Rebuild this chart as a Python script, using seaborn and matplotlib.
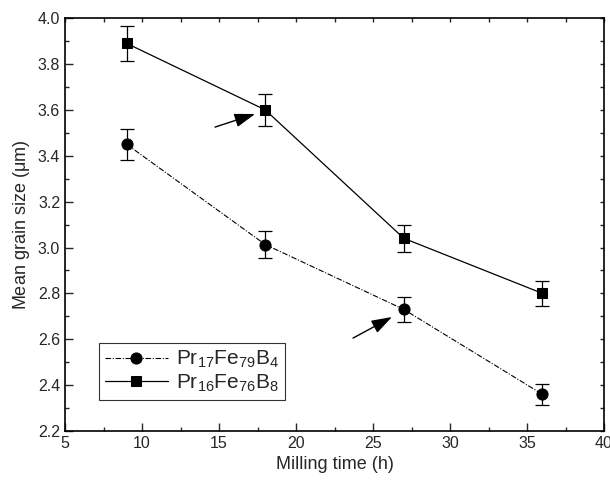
import numpy as np
import pandas as pd
import seaborn as sns
from matplotlib import pyplot as plt

# datos
milling_time = [9, 18, 27, 36]
size_pr17 = [3.45, 3.013, 2.73, 2.36]
err_pr17 = [0.068, 0.06, 0.055, 0.045]
size_pr16 = [3.89, 3.60, 3.04, 2.80]
err_pr16 = [0.075, 0.07, 0.06, 0.055]
label_pr17 = r'Pr$_{\mathregular{17}}$Fe$_{\mathregular{79}}$B$_{\mathregular{4}}$'
label_pr16 = r'Pr$_{\mathregular{16}}$Fe$_{\mathregular{76}}$B$_{\mathregular{8}}$'

sns.set_style('ticks')
plt.rcParams['font.family'] = ['Liberation Sans', 'DejaVu Sans']
plt.rcParams['mathtext.fontset'] = 'custom'
plt.rcParams['mathtext.rm'] = 'Liberation Sans'
plt.rcParams['mathtext.it'] = 'Liberation Sans:italic'

df1 = pd.DataFrame({'t': milling_time, 'size': size_pr17})
df2 = pd.DataFrame({'t': milling_time, 'size': size_pr16})

fig = plt.figure(figsize=(6.1, 4.9), dpi=100)
ax = fig.add_axes([0.1066, 0.1204, 0.8836, 0.8426])

sns.lineplot(data=df1, x='t', y='size', ax=ax, color='black', marker='o',
             markersize=8, linewidth=0.8, label=label_pr17,
             markeredgecolor='black')
ax.lines[-1].set_dashes([5, 1.5, 1, 1.5])
sns.lineplot(data=df2, x='t', y='size', ax=ax, color='black', marker='s',
             markersize=7, linewidth=0.9, label=label_pr16,
             markeredgecolor='black')

ax.errorbar(milling_time, size_pr17, yerr=err_pr17, fmt='none',
            ecolor='black', elinewidth=0.9, capsize=5, capthick=0.9)
ax.errorbar(milling_time, size_pr16, yerr=err_pr16, fmt='none',
            ecolor='black', elinewidth=0.9, capsize=5, capthick=0.9)

# flechas
estilo = '-|>,head_length=0.9,head_width=0.3'
ax.annotate('', xy=(17.34, 3.582), xytext=(14.74, 3.525),
            arrowprops=dict(arrowstyle=estilo, color='black', lw=1,
                            mutation_scale=14, shrinkA=0, shrinkB=0))
ax.annotate('', xy=(26.23, 2.697), xytext=(23.70, 2.605),
            arrowprops=dict(arrowstyle=estilo, color='black', lw=1,
                            mutation_scale=14, shrinkA=0, shrinkB=0))

ax.set_xlim(5, 40)
ax.set_ylim(2.2, 4.0)
ax.set_xticks(np.arange(5, 41, 5))
ax.set_xticks(np.arange(7.5, 40, 5), minor=True)
ax.set_yticks(np.arange(2.2, 4.01, 0.2))
ax.set_yticks(np.arange(2.3, 4.0, 0.2), minor=True)
ax.set_yticklabels([f'{v:.1f}' for v in np.arange(2.2, 4.01, 0.2)])
ax.tick_params(which='major', direction='in', length=6, width=1,
               labelsize=11.5, top=True, right=True)
ax.tick_params(which='minor', direction='in', length=3, width=1,
               top=True, right=True)
ax.xaxis.set_tick_params(which='major', top=True)
for t in ax.xaxis.get_major_ticks():
    t.tick2line.set_markersize(3)
for t in ax.yaxis.get_major_ticks():
    t.tick2line.set_markersize(3)
for s in ax.spines.values():
    s.set_linewidth(1.2)
    s.set_color('black')

ax.set_xlabel('Milling time (h)', fontsize=13)
ax.set_ylabel(r'Mean grain size ($\mathregular{\mu}$m)', fontsize=13)

leg = ax.legend(loc='lower left', bbox_to_anchor=(0.063, 0.075),
                borderaxespad=0, fontsize=15, frameon=True, fancybox=False,
                handlelength=3, handletextpad=0.4, borderpad=0.3,
                labelspacing=0.1)
leg.get_frame().set_edgecolor('black')
leg.get_frame().set_linewidth(0.8)

fig.savefig('out.png', dpi=100)
